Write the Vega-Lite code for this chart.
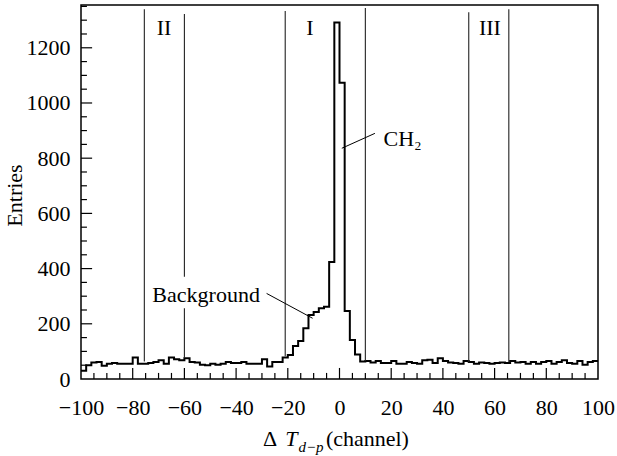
{
  "$schema": "https://vega.github.io/schema/vega-lite/v6.json",
  "width": 517,
  "height": 374,
  "autosize": {"type": "none"},
  "padding": {"left": 81, "top": 5, "right": 19, "bottom": 77},
  "background": "white",
  "config": {
    "view": {"stroke": "black", "strokeWidth": 1.5},
    "axis": {
      "domain": false, "ticks": false,
      "labelFont": "Liberation Serif", "labelFontSize": 22, "labelColor": "black",
      "titleFont": "Liberation Serif", "titleFontSize": 22, "titleFontWeight": "normal", "titleColor": "black",
      "grid": false, "labelOverlap": false, "labelFlush": false
    }
  },
  "resolve": {"axis": {"x": "independent", "y": "independent"}},
  "datasets": {
    "hist": [
      {"lo": -100, "hi": -98, "n": 30}, {"lo": -98, "hi": -96, "n": 50}, {"lo": -96, "hi": -94, "n": 60}, {"lo": -94, "hi": -92, "n": 62}, {"lo": -92, "hi": -90, "n": 48},
      {"lo": -90, "hi": -88, "n": 55}, {"lo": -88, "hi": -86, "n": 58}, {"lo": -86, "hi": -84, "n": 55}, {"lo": -84, "hi": -82, "n": 55}, {"lo": -82, "hi": -80, "n": 55},
      {"lo": -80, "hi": -78, "n": 78}, {"lo": -78, "hi": -76, "n": 55}, {"lo": -76, "hi": -74, "n": 55}, {"lo": -74, "hi": -72, "n": 58}, {"lo": -72, "hi": -70, "n": 62},
      {"lo": -70, "hi": -68, "n": 68}, {"lo": -68, "hi": -66, "n": 55}, {"lo": -66, "hi": -64, "n": 78}, {"lo": -64, "hi": -62, "n": 72}, {"lo": -62, "hi": -60, "n": 68},
      {"lo": -60, "hi": -58, "n": 75}, {"lo": -58, "hi": -56, "n": 62}, {"lo": -56, "hi": -54, "n": 60}, {"lo": -54, "hi": -52, "n": 52}, {"lo": -52, "hi": -50, "n": 50},
      {"lo": -50, "hi": -48, "n": 55}, {"lo": -48, "hi": -46, "n": 52}, {"lo": -46, "hi": -44, "n": 55}, {"lo": -44, "hi": -42, "n": 62}, {"lo": -42, "hi": -40, "n": 58},
      {"lo": -40, "hi": -38, "n": 58}, {"lo": -38, "hi": -36, "n": 62}, {"lo": -36, "hi": -34, "n": 55}, {"lo": -34, "hi": -32, "n": 55}, {"lo": -32, "hi": -30, "n": 55},
      {"lo": -30, "hi": -28, "n": 72}, {"lo": -28, "hi": -26, "n": 45}, {"lo": -26, "hi": -24, "n": 62}, {"lo": -24, "hi": -22, "n": 62}, {"lo": -22, "hi": -20, "n": 78},
      {"lo": -20, "hi": -18, "n": 87}, {"lo": -18, "hi": -16, "n": 120}, {"lo": -16, "hi": -14, "n": 138}, {"lo": -14, "hi": -12, "n": 184}, {"lo": -12, "hi": -10, "n": 232},
      {"lo": -10, "hi": -8, "n": 243}, {"lo": -8, "hi": -6, "n": 256}, {"lo": -6, "hi": -4, "n": 262}, {"lo": -4, "hi": -2, "n": 424}, {"lo": -2, "hi": 0, "n": 1292},
      {"lo": 0, "hi": 2, "n": 1073}, {"lo": 2, "hi": 4, "n": 246}, {"lo": 4, "hi": 6, "n": 141}, {"lo": 6, "hi": 8, "n": 89}, {"lo": 8, "hi": 10, "n": 63},
      {"lo": 10, "hi": 12, "n": 65}, {"lo": 12, "hi": 14, "n": 60}, {"lo": 14, "hi": 16, "n": 65}, {"lo": 16, "hi": 18, "n": 58}, {"lo": 18, "hi": 20, "n": 58},
      {"lo": 20, "hi": 22, "n": 65}, {"lo": 22, "hi": 24, "n": 55}, {"lo": 24, "hi": 26, "n": 55}, {"lo": 26, "hi": 28, "n": 62}, {"lo": 28, "hi": 30, "n": 58},
      {"lo": 30, "hi": 32, "n": 55}, {"lo": 32, "hi": 34, "n": 68}, {"lo": 34, "hi": 36, "n": 70}, {"lo": 36, "hi": 38, "n": 58}, {"lo": 38, "hi": 40, "n": 75},
      {"lo": 40, "hi": 42, "n": 65}, {"lo": 42, "hi": 44, "n": 60}, {"lo": 44, "hi": 46, "n": 58}, {"lo": 46, "hi": 48, "n": 55}, {"lo": 48, "hi": 50, "n": 65},
      {"lo": 50, "hi": 52, "n": 62}, {"lo": 52, "hi": 54, "n": 55}, {"lo": 54, "hi": 56, "n": 60}, {"lo": 56, "hi": 58, "n": 58}, {"lo": 58, "hi": 60, "n": 55},
      {"lo": 60, "hi": 62, "n": 58}, {"lo": 62, "hi": 64, "n": 60}, {"lo": 64, "hi": 66, "n": 58}, {"lo": 66, "hi": 68, "n": 65}, {"lo": 68, "hi": 70, "n": 60},
      {"lo": 70, "hi": 72, "n": 62}, {"lo": 72, "hi": 74, "n": 55}, {"lo": 74, "hi": 76, "n": 62}, {"lo": 76, "hi": 78, "n": 55}, {"lo": 78, "hi": 80, "n": 62},
      {"lo": 80, "hi": 82, "n": 65}, {"lo": 82, "hi": 84, "n": 55}, {"lo": 84, "hi": 86, "n": 62}, {"lo": 86, "hi": 88, "n": 68}, {"lo": 88, "hi": 90, "n": 58},
      {"lo": 90, "hi": 92, "n": 55}, {"lo": 92, "hi": 94, "n": 65}, {"lo": 94, "hi": 96, "n": 52}, {"lo": 96, "hi": 98, "n": 62}, {"lo": 98, "hi": 100, "n": 65}
    ],
    "cuts": [
      {"x": -75.5, "y0": 63, "y1": 1340},
      {"x": -60, "y0": 76, "y1": 256},
      {"x": -60, "y0": 370, "y1": 1322},
      {"x": -21, "y0": 82, "y1": 1333},
      {"x": 10, "y0": 65, "y1": 1344},
      {"x": 50, "y0": 60, "y1": 1329},
      {"x": 65.5, "y0": 62, "y1": 1340}
    ],
    "pointers": [
      {"x": -28.2, "y": 310, "x2": -10.4, "y2": 220},
      {"x": 0.9, "y": 836, "x2": 13.7, "y2": 890}
    ],
    "labels": [
      {"x": -67.9, "y": 1246, "text": "II"},
      {"x": -11.4, "y": 1246, "text": "I"},
      {"x": 58.2, "y": 1246, "text": "III"},
      {"x": -51.6, "y": 280, "text": "Background"},
      {"x": 24.4, "y": 845, "text": "CH₂"},
      {"x": -26.9, "y": -243, "text": "Δ"},
      {"x": 10.8, "y": -243, "text": "(channel)"}
    ],
    "italics": [
      {"x": -18.6, "y": -243, "text": "T", "size": 22},
      {"x": -11.0, "y": -264, "text": "d−p", "size": 15}
    ],
    "xMajor": [{"v": -80}, {"v": -60}, {"v": -40}, {"v": -20}, {"v": 0}, {"v": 20}, {"v": 40}, {"v": 60}, {"v": 80}],
    "xMinor": [
      {"v": -95}, {"v": -90}, {"v": -85}, {"v": -75}, {"v": -70}, {"v": -65}, {"v": -55}, {"v": -50}, {"v": -45}, {"v": -35},
      {"v": -30}, {"v": -25}, {"v": -15}, {"v": -10}, {"v": -5}, {"v": 5}, {"v": 10}, {"v": 15}, {"v": 25}, {"v": 30},
      {"v": 35}, {"v": 45}, {"v": 50}, {"v": 55}, {"v": 65}, {"v": 70}, {"v": 75}, {"v": 85}, {"v": 90}, {"v": 95}
    ],
    "yMajor": [{"v": 200}, {"v": 400}, {"v": 600}, {"v": 800}, {"v": 1000}, {"v": 1200}],
    "yMinor": [
      {"v": 50}, {"v": 100}, {"v": 150}, {"v": 250}, {"v": 300}, {"v": 350}, {"v": 450}, {"v": 500}, {"v": 550}, {"v": 650}, {"v": 700},
      {"v": 750}, {"v": 850}, {"v": 900}, {"v": 950}, {"v": 1050}, {"v": 1100}, {"v": 1150}, {"v": 1250}, {"v": 1300}, {"v": 1350}
    ]
  },
  "layer": [
    {
      "data": {"name": "hist"},
      "transform": [{"fold": ["lo", "hi"], "as": ["edgeKey", "edge"]}],
      "mark": {"type": "line", "color": "black", "strokeWidth": 2, "strokeJoin": "miter"},
      "encoding": {
        "x": {
          "field": "edge", "type": "quantitative",
          "scale": {"domain": [-100, 100], "nice": false, "zero": false},
          "axis": {
            "orient": "bottom", "title": null,
            "values": [-100, -80, -60, -40, -20, 0, 20, 40, 60, 80, 100],
            "format": "d", "labelPadding": 18
          }
        },
        "y": {
          "field": "n", "type": "quantitative",
          "scale": {"domain": [0, 1355], "nice": false},
          "axis": {
            "orient": "left", "title": "Entries",
            "values": [0, 200, 400, 600, 800, 1000, 1200],
            "format": "d", "labelPadding": 11,
            "titleX": -67, "titleY": 190, "titleAlign": "center", "titleBaseline": "middle", "titleAngle": -90
          }
        },
        "order": [{"field": "edge", "type": "quantitative"}, {"field": "edgeKey", "type": "nominal"}]
      }
    },
    {
      "data": {"name": "xMajor"},
      "mark": {"type": "rule", "color": "black", "strokeWidth": 1.2},
      "encoding": {
        "x": {"field": "v", "type": "quantitative", "axis": null},
        "y": {"datum": 0, "type": "quantitative", "axis": null},
        "y2": {"datum": 40}
      }
    },
    {
      "data": {"name": "xMinor"},
      "mark": {"type": "rule", "color": "black", "strokeWidth": 1.2},
      "encoding": {
        "x": {"field": "v", "type": "quantitative", "axis": null},
        "y": {"datum": 0, "type": "quantitative", "axis": null},
        "y2": {"datum": 22}
      }
    },
    {
      "data": {"name": "yMajor"},
      "mark": {"type": "rule", "color": "black", "strokeWidth": 1.2},
      "encoding": {
        "y": {"field": "v", "type": "quantitative", "axis": null},
        "x": {"datum": -100, "type": "quantitative", "axis": null},
        "x2": {"datum": -95.7}
      }
    },
    {
      "data": {"name": "yMinor"},
      "mark": {"type": "rule", "color": "black", "strokeWidth": 1.2},
      "encoding": {
        "y": {"field": "v", "type": "quantitative", "axis": null},
        "x": {"datum": -100, "type": "quantitative", "axis": null},
        "x2": {"datum": -97.7}
      }
    },
    {
      "data": {"name": "cuts"},
      "mark": {"type": "rule", "color": "#222222", "strokeWidth": 1.1},
      "encoding": {
        "x": {"field": "x", "type": "quantitative", "axis": null},
        "y": {"field": "y0", "type": "quantitative", "axis": null},
        "y2": {"field": "y1"}
      }
    },
    {
      "data": {"name": "pointers"},
      "mark": {"type": "rule", "color": "black", "strokeWidth": 1},
      "encoding": {
        "x": {"field": "x", "type": "quantitative", "axis": null},
        "y": {"field": "y", "type": "quantitative", "axis": null},
        "x2": {"field": "x2"},
        "y2": {"field": "y2"}
      }
    },
    {
      "data": {"name": "labels"},
      "mark": {"type": "text", "font": "Liberation Serif", "fontSize": 22, "color": "black", "baseline": "alphabetic", "align": "center", "clip": false},
      "encoding": {
        "x": {"field": "x", "type": "quantitative", "axis": null},
        "y": {"field": "y", "type": "quantitative", "axis": null},
        "text": {"field": "text"}
      }
    },
    {
      "data": {"name": "italics"},
      "mark": {"type": "text", "font": "Liberation Serif", "fontStyle": "italic", "color": "black", "baseline": "alphabetic", "align": "center", "clip": false},
      "encoding": {
        "x": {"field": "x", "type": "quantitative", "axis": null},
        "y": {"field": "y", "type": "quantitative", "axis": null},
        "text": {"field": "text"},
        "size": {"field": "size", "type": "quantitative", "scale": null}
      }
    }
  ]
}
